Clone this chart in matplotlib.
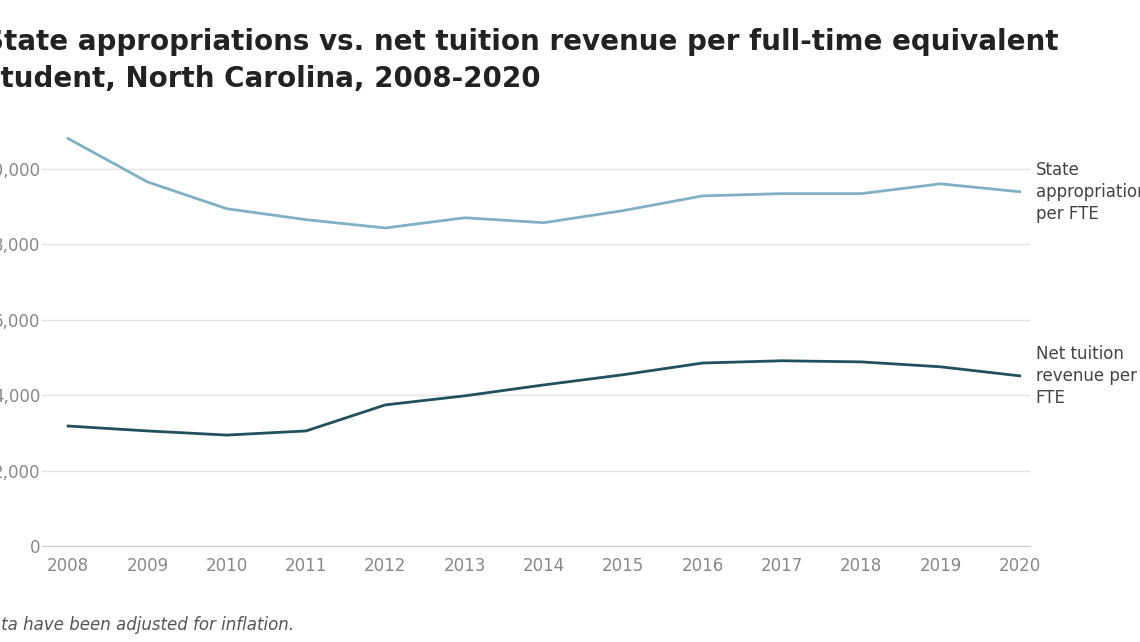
import matplotlib.pyplot as plt
from matplotlib.ticker import FuncFormatter

years = [2008, 2009, 2010, 2011, 2012, 2013, 2014, 2015, 2016, 2017, 2018, 2019, 2020]
state_approp = [10800, 9650, 8940, 8650, 8430, 8700, 8570, 8890, 9280, 9340, 9340, 9600, 9390]
net_tuition = [3180, 3050, 2940, 3050, 3740, 3980, 4270, 4540, 4850, 4910, 4880, 4750, 4510]
y_ticks = [0, 2000, 4000, 6000, 8000, 10000]

fig = plt.figure(figsize=(11.4, 6.42), dpi=100)
ax = fig.add_axes([42 / 1140, 1 - 546 / 642, (1030 - 42) / 1140, (546 - 131) / 642])

ax.plot(years, state_approp, color="#7fb0c4", linewidth=2)
ax.plot(years, net_tuition, color="#21505f", linewidth=2)

ax.set_xlim(2007.67, 2020.13)
ax.set_ylim(0, 11000)
ax.set_xticks(years)
ax.set_yticks(y_ticks)
ax.yaxis.set_major_formatter(FuncFormatter(lambda v, _: f"{v:,.0f}"))
ax.grid(axis="y", color="#e4e4e4", linewidth=1)
ax.set_axisbelow(True)
for s in ax.spines.values():
    s.set_visible(False)
ax.spines["bottom"].set_visible(True)
ax.spines["bottom"].set_color("#cccccc")
ax.tick_params(length=0, labelsize=12, colors="#888888")
ax.tick_params(axis="y", pad=1)
ax.tick_params(axis="x", pad=8)

ax.text(2020.2, state_approp[-1], "State\nappropriations\nper FTE", fontsize=12,
        color="#444444", va="center", ha="left", linespacing=1.3, clip_on=False)
ax.text(2020.2, net_tuition[-1], "Net tuition\nrevenue per\nFTE", fontsize=12,
        color="#444444", va="center", ha="left", linespacing=1.3, clip_on=False)

fig.text(-16 / 1140, 1 - 28 / 642,
         "State appropriations vs. net tuition revenue per full-time equivalent\n"
         "student, North Carolina, 2008-2020",
         fontsize=20, fontweight="bold", va="top", ha="left", color="#222222",
         linespacing=1.4)
fig.text(-72 / 1140, 1 - 625 / 642, "Note: Data have been adjusted for inflation.",
         fontsize=12, style="italic", color="#555555", va="center", ha="left")

fig.savefig("out.png", dpi=100)
